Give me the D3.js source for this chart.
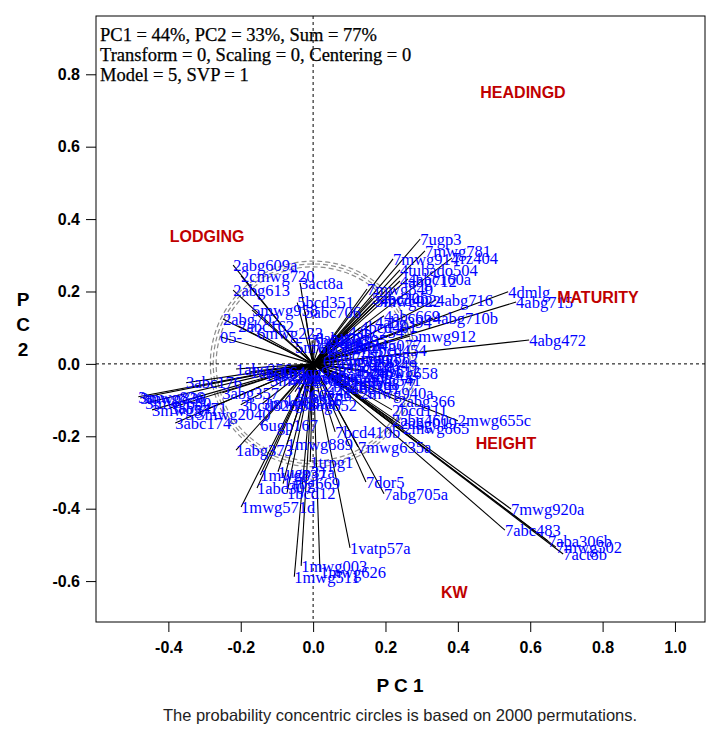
<!DOCTYPE html>
<html>
<head>
<meta charset="utf-8">
<script src="https://cdn.jsdelivr.net/npm/d3@7"></script>
<style>
  body { margin: 0; background: #fff; }
  svg { display: block; }
</style>
</head>
<body>
<div id="chart"></div>
<script>
// genotype scores (PC1, PC2)
const genoNames = [
  '7ugp3', '7mwg781', '7mwg914', '7rz404', '4tubado504', '4abg712', '4abc160a', '7mwg840',
  '4dmlg', '4abg715', '4abg716', '5mwg922', '4bcd402', '5abc305', '4abg710b', '4abc669',
  '4abg394', '5mwg912', '4abg472', '7mwg882', '4bcd401', '4abc345',
  '2mwg658', '7msh12', '2mwg877', '2mwg940a', '2abg366', '2bcd111', '2mwg655c', '2abg460',
  '2abg019', '2mwg865', '7bcd410b', '7mwg635a', '7dor5', '7abg705a', '7mwg920a', '7abc483',
  '7aba306b', '7mwg502', '7act8b',
  '1vatp57a', '1mwg003', '1mwg626', '1mwg511', '1mwg571d', '1abc307', '1bcd12', '1abg669',
  '1mwg837', '1ugp31a', '1trpg1', '1abg373', '1mwg889', '6ugp167',
  '3abc174', '3mwg2040', '3mwg826', '3mwg838', '3mwg680', '3mwg571', '3abg471', '3abc176',
  '3abg357', '3bcd828', '3mwg683a', '1abc256',
  '2abg609a', '2cmwg720', '3act8a', '2abg613', '2abg702', '2abc162', '5mwg958', '6mwg223',
  '05-', '5bcd351', '5abc706', '6abg020',
  '6bcd340', '6abc163', '6mwg798', '6abg458', '6bcd269', '7abg461', '7mwg002', '2abg008',
  '2bcd175', '5abg391', '5mwg541', '1abc164', '1abg702', '1mwg938', '3mwg230', '3abg609',
  '1mwg36', '1bcd441', '6ugp6', '1abg316', '6abg652', '5bcd508', '5mwg502', '5abg395',
  '4abc254', '4mwg077', '4bcd454', '7bcd349'
];
const genoPC1 = [
  0.296, 0.309, 0.221, 0.384, 0.240, 0.240, 0.262, 0.149,
  0.539, 0.561, 0.340, 0.171, 0.185, 0.163, 0.331, 0.196,
  0.171, 0.268, 0.597, 0.108, 0.130, 0.075,
  0.163, 0.152, 0.102, 0.130, 0.235, 0.218, 0.400, 0.218,
  0.240, 0.249, 0.061, 0.124, 0.146, 0.196, 0.547, 0.530,
  0.649, 0.671, 0.691,
  0.102, -0.033, 0.019, -0.052, -0.199, -0.155, -0.072, -0.083,
  -0.146, -0.097, -0.008, -0.213, -0.072, -0.146,
  -0.381, -0.323, -0.483, -0.478, -0.464, -0.445, -0.395, -0.351,
  -0.251, -0.200, -0.141, -0.213,
  -0.221, -0.199, -0.036, -0.221, -0.249, -0.207, -0.169, -0.155,
  -0.257, -0.044, -0.022, 0.006,
  0.014, 0.041, 0.028, 0.069, 0.047, 0.088, 0.075, 0.061,
  0.033, 0.083, 0.116, -0.174, -0.133, -0.091, -0.119, -0.064,
  -0.036, -0.050, -0.008, -0.077, -0.036, -0.003, -0.050, 0.047,
  0.097, 0.116, 0.157, 0.130
];
const genoPC2 = [
  0.345, 0.312, 0.290, 0.293, 0.260, 0.229, 0.235, 0.207,
  0.199, 0.171, 0.177, 0.174, 0.177, 0.182, 0.127, 0.133,
  0.116, 0.077, 0.066, 0.017, 0.100, 0.052,
  -0.025, -0.019, -0.055, -0.080, -0.102, -0.127, -0.157, -0.155,
  -0.163, -0.177, -0.188, -0.229, -0.326, -0.359, -0.401, -0.459,
  -0.489, -0.506, -0.525,
  -0.508, -0.558, -0.575, -0.588, -0.395, -0.343, -0.356, -0.331,
  -0.307, -0.298, -0.271, -0.238, -0.221, -0.169,
  -0.163, -0.138, -0.091, -0.094, -0.108, -0.127, -0.122, -0.052,
  -0.080, -0.113, -0.110, -0.014,
  0.273, 0.243, 0.224, 0.204, 0.124, 0.105, 0.149, 0.086,
  0.075, 0.169, 0.144, 0.072,
  0.044, 0.025, 0.006, -0.008, -0.033, -0.022, 0.006, -0.044,
  -0.061, -0.066, -0.044, -0.022, -0.030, -0.022, -0.044, -0.039,
  -0.039, -0.077, -0.086, -0.099, -0.113, 0.064, 0.047, 0.066,
  0.088, 0.052, 0.039, -0.003
];

// trait positions
const traitNames = ['HEADINGD', 'LODGING', 'MATURITY', 'HEIGHT', 'KW'];
const traitPC1 = [0.580, -0.293, 0.787, 0.533, 0.390];
const traitPC2 = [0.751, 0.351, 0.185, -0.221, -0.630];

// permutation circles
const circleRadii = [0.268, 0.276, 0.284];

const xTicks = [-0.4, -0.2, 0.0, 0.2, 0.4, 0.6, 0.8, 1.0];
const yTicks = [-0.6, -0.4, -0.2, 0.0, 0.2, 0.4, 0.6, 0.8];

const infoLines = [
  'PC1 = 44%, PC2 = 33%, Sum = 77%',
  'Transform = 0, Scaling = 0, Centering = 0',
  'Model = 5, SVP = 1'
];

const width = 724, height = 739;
const box = { left: 96, right: 705, top: 16, bottom: 622 };
const serif = '"Liberation Serif", "Times New Roman", serif';
const sans = '"Liberation Sans", Arial, sans-serif';

const svg = d3.select('#chart').append('svg')
  .attr('width', width)
  .attr('height', height);

const x = d3.scaleLinear().domain([-0.6, 1.083]).range([box.left, box.right]);
const y = d3.scaleLinear().domain([0.961, -0.713]).range([box.top, box.bottom]);

// circles
svg.append('g').selectAll('ellipse')
  .data(circleRadii)
  .join('ellipse')
  .attr('cx', x(0))
  .attr('cy', y(0))
  .attr('rx', d => x(d) - x(0))
  .attr('ry', d => y(0) - y(d))
  .attr('fill', 'none')
  .attr('stroke', '#8c8c8c')
  .attr('stroke-width', 1.2)
  .attr('stroke-dasharray', '5,3');

// zero lines
svg.append('line')
  .attr('x1', x(0)).attr('x2', x(0))
  .attr('y1', box.top).attr('y2', box.bottom)
  .attr('stroke', '#000').attr('stroke-dasharray', '3,3');
svg.append('line')
  .attr('x1', box.left).attr('x2', box.right)
  .attr('y1', y(0)).attr('y2', y(0))
  .attr('stroke', '#000').attr('stroke-dasharray', '3,3');

const geno = genoNames.map((name, i) => ({ name, pc1: genoPC1[i], pc2: genoPC2[i] }));

// vectors
svg.append('g').selectAll('line')
  .data(geno)
  .join('line')
  .attr('x1', x(0))
  .attr('y1', y(0))
  .attr('x2', d => x(d.pc1))
  .attr('y2', d => y(d.pc2))
  .attr('stroke', '#000')
  .attr('stroke-width', 1.1);

// genotype labels
svg.append('g').selectAll('text')
  .data(geno)
  .join('text')
  .attr('x', d => x(d.pc1))
  .attr('y', d => y(d.pc2))
  .attr('dy', '0.35em')
  .attr('fill', '#0000ff')
  .attr('font-family', serif)
  .attr('font-size', 16.5)
  .text(d => d.name);

// traits
svg.append('g').selectAll('text')
  .data(traitNames)
  .join('text')
  .attr('x', (d, i) => x(traitPC1[i]))
  .attr('y', (d, i) => y(traitPC2[i]))
  .attr('dy', '0.35em')
  .attr('text-anchor', 'middle')
  .attr('fill', '#c00000')
  .attr('font-family', sans)
  .attr('font-weight', 'bold')
  .attr('font-size', 16)
  .text(d => d);

// frame
svg.append('rect')
  .attr('x', box.left).attr('y', box.top)
  .attr('width', box.right - box.left)
  .attr('height', box.bottom - box.top)
  .attr('fill', 'none')
  .attr('stroke', '#000');

// info text
svg.append('g').selectAll('text')
  .data(infoLines)
  .join('text')
  .attr('x', box.left + 4)
  .attr('y', (d, i) => 41 + i * 20)
  .attr('font-family', serif)
  .attr('font-size', 18.5)
  .attr('fill', '#000')
  .attr('stroke', '#000')
  .attr('stroke-width', 0.25)
  .text(d => d);

// axes
const fmt = d => d.toFixed(1);
const xAxis = svg.append('g')
  .attr('transform', `translate(0,${box.bottom})`)
  .call(d3.axisBottom(x).tickValues(xTicks).tickFormat(fmt).tickSize(10).tickPadding(10));
const yAxis = svg.append('g')
  .attr('transform', `translate(${box.left},0)`)
  .call(d3.axisLeft(y).tickValues(yTicks).tickFormat(fmt).tickSize(10).tickPadding(6));

[xAxis, yAxis].forEach(a => {
  a.select('.domain').remove();
  a.selectAll('text')
    .attr('font-family', sans)
    .attr('font-weight', 'bold')
    .attr('font-size', 16)
    .attr('fill', '#000');
  a.selectAll('line').attr('stroke', '#000');
});

// axis titles
svg.append('text')
  .attr('x', 400)
  .attr('y', 692)
  .attr('text-anchor', 'middle')
  .attr('font-family', sans)
  .attr('font-weight', 'bold')
  .attr('font-size', 19)
  .text('P C 1');

svg.append('g').selectAll('text')
  .data(['P', 'C', '2'])
  .join('text')
  .attr('x', 23)
  .attr('y', (d, i) => 306 + i * 25)
  .attr('text-anchor', 'middle')
  .attr('font-family', sans)
  .attr('font-weight', 'bold')
  .attr('font-size', 19)
  .text(d => d);

// footnote
svg.append('text')
  .attr('x', 400)
  .attr('y', 721)
  .attr('text-anchor', 'middle')
  .attr('font-family', sans)
  .attr('font-size', 16.5)
  .attr('fill', '#222')
  .text('The probability concentric circles is based on 2000 permutations.');
</script>
</body>
</html>
